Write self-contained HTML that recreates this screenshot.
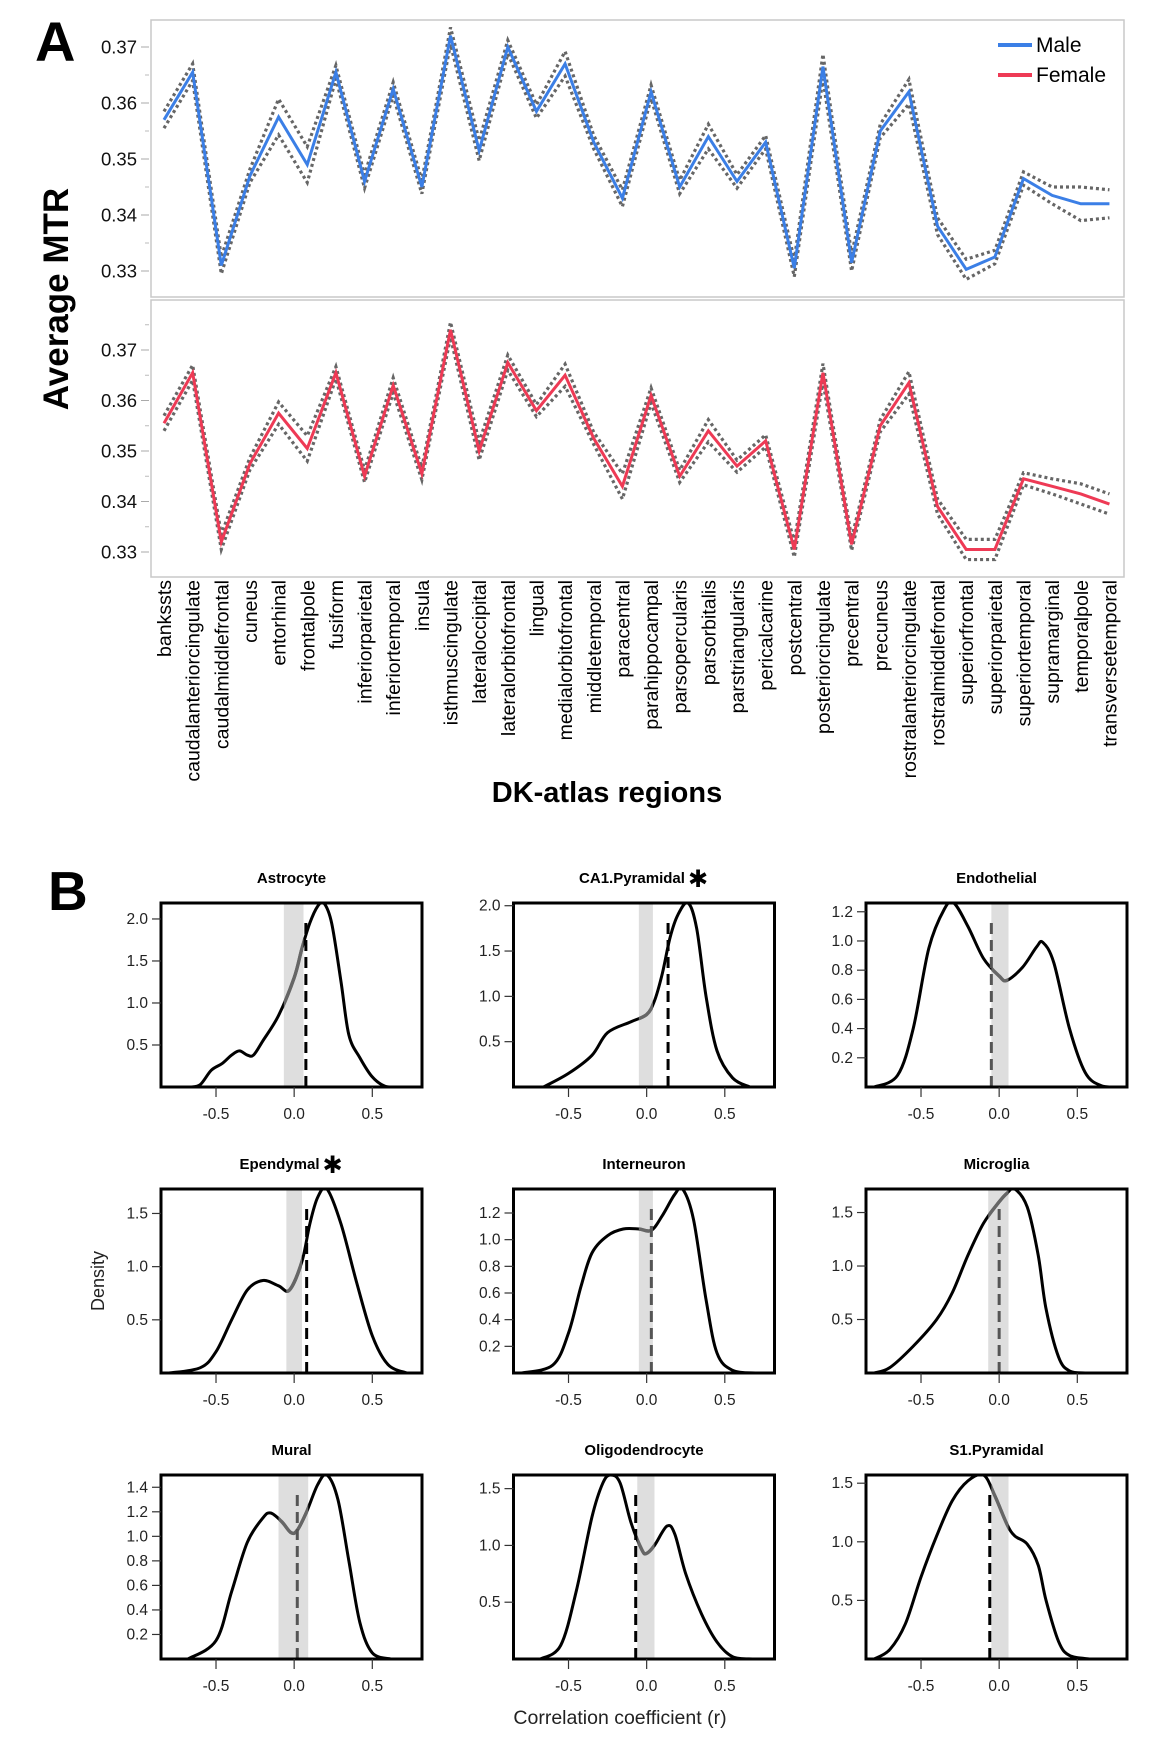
<!DOCTYPE html>
<html><head><meta charset="utf-8">
<style>
html,body{margin:0;padding:0;background:#fff;}
svg{display:block;font-family:"Liberation Sans",Arial,sans-serif;}
</style></head>
<body>
<svg id="fig" width="1162" height="1752" viewBox="0 0 1162 1752" xmlns="http://www.w3.org/2000/svg">
<text x="35" y="61" font-size="56" font-weight="bold">A</text>
<text x="48" y="910" font-size="55" font-weight="bold">B</text>
<g id="pa"></g>
<g id="pb"></g>
</svg>
<script>
// ---------- Panel A data ----------
const regions = ["bankssts","caudalanteriorcingulate","caudalmiddlefrontal","cuneus","entorhinal","frontalpole","fusiform","inferiorparietal","inferiortemporal","insula","isthmuscingulate","lateraloccipital","lateralorbitofrontal","lingual","medialorbitofrontal","middletemporal","paracentral","parahippocampal","parsopercularis","parsorbitalis","parstriangularis","pericalcarine","postcentral","posteriorcingulate","precentral","precuneus","rostralanteriorcingulate","rostralmiddlefrontal","superiorfrontal","superiorparietal","superiortemporal","supramarginal","temporalpole","transversetemporal"];
const maleMTR = [0.357,0.3655,0.331,0.347,0.3575,0.349,0.3655,0.346,0.3625,0.345,0.372,0.3515,0.370,0.3585,0.367,0.353,0.343,0.362,0.345,0.354,0.346,0.353,0.3305,0.3665,0.3315,0.355,0.362,0.338,0.3303,0.3325,0.3465,0.3435,0.342,0.342];
const maleErr = [0.0015,0.0015,0.0015,0.0012,0.0032,0.0032,0.0012,0.0012,0.0012,0.0012,0.0015,0.0018,0.0012,0.0012,0.0022,0.0012,0.0015,0.0012,0.0012,0.0022,0.0012,0.0012,0.0015,0.0022,0.0015,0.0012,0.0022,0.0015,0.0018,0.0012,0.0012,0.0015,0.003,0.0025];
const femaleMTR = [0.3555,0.3655,0.332,0.3475,0.3575,0.3505,0.3655,0.345,0.363,0.3455,0.374,0.350,0.3675,0.358,0.365,0.3525,0.343,0.361,0.345,0.354,0.347,0.352,0.3305,0.3655,0.3315,0.355,0.3635,0.339,0.3305,0.3305,0.3445,0.343,0.3415,0.3395];
const femaleErr = [0.0015,0.0015,0.0015,0.0012,0.0022,0.0025,0.0012,0.0012,0.0015,0.0012,0.0015,0.0018,0.0015,0.0012,0.0022,0.0012,0.0025,0.0015,0.0012,0.0022,0.0012,0.0012,0.0015,0.0018,0.0012,0.0012,0.0022,0.0015,0.002,0.002,0.0012,0.0015,0.002,0.002];
const mtrTicks = [0.33,0.34,0.35,0.36,0.37];
const mtrTickLabels = ["0.33","0.34","0.35","0.36","0.37"];

// ---------- Panel B data ----------
const cellTypes = ["Astrocyte","CA1.Pyramidal","Endothelial","Ependymal","Interneuron","Microglia","Mural","Oligodendrocyte","S1.Pyramidal"];
const significant = [false,true,false,true,false,false,false,false,false];
const xTicksB = [-0.5,0,0.5];
const xTickLabelsB = ["-0.5","0.0","0.5"];
const densX = [
 [-0.66,-0.6,-0.53,-0.46,-0.4,-0.35,-0.3,-0.26,-0.2,-0.1,0,0.05,0.1,0.15,0.19,0.24,0.3,0.35,0.42,0.5,0.58,0.66],
 [-0.66,-0.5,-0.35,-0.25,-0.1,0,0.05,0.1,0.15,0.2,0.265,0.32,0.38,0.45,0.55,0.66],
 [-0.8,-0.65,-0.55,-0.45,-0.35,-0.29,-0.2,-0.1,0,0.05,0.15,0.24,0.28,0.35,0.45,0.55,0.65,0.75],
 [-0.8,-0.6,-0.5,-0.4,-0.3,-0.2,-0.1,-0.03,0.05,0.1,0.15,0.21,0.3,0.4,0.5,0.6,0.72],
 [-0.8,-0.6,-0.5,-0.42,-0.35,-0.25,-0.15,-0.05,0.03,0.1,0.18,0.23,0.3,0.38,0.45,0.55,0.7],
 [-0.8,-0.7,-0.55,-0.4,-0.3,-0.2,-0.1,0,0.05,0.1,0.18,0.25,0.3,0.38,0.45,0.55],
 [-0.68,-0.5,-0.4,-0.3,-0.2,-0.15,-0.08,-0.02,0.02,0.08,0.15,0.21,0.28,0.35,0.42,0.5,0.62],
 [-0.68,-0.55,-0.45,-0.35,-0.28,-0.23,-0.17,-0.1,-0.03,0.0,0.05,0.13,0.18,0.25,0.35,0.45,0.55,0.68],
 [-0.8,-0.7,-0.6,-0.5,-0.4,-0.3,-0.2,-0.1,-0.03,0.05,0.1,0.18,0.25,0.3,0.38,0.45,0.58]
];
const densY = [
 [0,0.03,0.2,0.28,0.38,0.43,0.38,0.38,0.55,0.85,1.3,1.65,1.95,2.15,2.19,1.95,1.25,0.62,0.35,0.12,0.01,0],
 [0,0.15,0.35,0.6,0.72,0.8,0.95,1.25,1.65,1.9,2.03,1.75,1.0,0.4,0.1,0],
 [0,0.08,0.4,0.95,1.22,1.26,1.1,0.88,0.76,0.73,0.82,0.96,0.99,0.85,0.4,0.1,0.01,0],
 [0,0.05,0.2,0.5,0.78,0.87,0.82,0.78,1.05,1.4,1.65,1.73,1.4,0.85,0.35,0.08,0],
 [0,0.06,0.3,0.65,0.9,1.03,1.08,1.08,1.07,1.18,1.34,1.38,1.15,0.55,0.15,0.02,0],
 [0,0.05,0.25,0.5,0.75,1.1,1.4,1.6,1.68,1.72,1.55,1.1,0.6,0.15,0.02,0],
 [0,0.15,0.55,0.95,1.15,1.19,1.12,1.03,1.05,1.2,1.42,1.5,1.3,0.8,0.3,0.05,0],
 [0,0.12,0.6,1.25,1.55,1.62,1.55,1.2,0.96,0.93,1.0,1.17,1.1,0.75,0.4,0.15,0.02,0],
 [0,0.08,0.3,0.7,1.05,1.35,1.52,1.57,1.4,1.15,1.05,0.98,0.8,0.5,0.15,0.03,0]
];
const yMaxB = [2.19,2.03,1.26,1.73,1.38,1.72,1.5,1.62,1.57];
const yTicksB = [[0.5,1,1.5,2],[0.5,1,1.5,2],[0.2,0.4,0.6,0.8,1,1.2],[0.5,1,1.5],[0.2,0.4,0.6,0.8,1,1.2],[0.5,1,1.5],[0.2,0.4,0.6,0.8,1,1.2,1.4],[0.5,1,1.5],[0.5,1,1.5]];
const bandLo = [-0.066,-0.05,-0.05,-0.05,-0.05,-0.07,-0.1,-0.06,-0.05];
const bandHi = [0.06,0.04,0.06,0.05,0.04,0.06,0.09,0.05,0.06];
const obsR = [0.075,0.137,-0.05,0.08,0.03,0.0,0.02,-0.07,-0.06];
const obsGrey = [false,false,true,false,true,true,true,false,false];

const NS = "http://www.w3.org/2000/svg";
function mk(tag, attrs, parent, txt){
  const e = document.createElementNS(NS, tag);
  for (const k in attrs) e.setAttribute(k, attrs[k]);
  if (txt !== undefined) e.textContent = txt;
  parent.appendChild(e);
  return e;
}
function fmtTick(v){ return v.toFixed(1); }

// ---------- Panel A ----------
const pa = document.getElementById('pa');
const AX0 = 151, AX1 = 1124;
const xA = i => 164 + i * 28.65;
const plotsA = [
  {top:20, bottom:297, y037:47, ppu:5600, vals:maleMTR, err:maleErr, color:"#3b7fe6", name:"male"},
  {top:300, bottom:577, y037:350, ppu:5050, vals:femaleMTR, err:femaleErr, color:"#ee3a55", name:"female"}
];
plotsA.forEach(p => {
  const yA = v => p.y037 + (0.37 - v) * p.ppu;
  const g = mk('g', {}, pa);
  
  
  const fr = mk('rect', {x:AX0, y:p.top, width:AX1-AX0, height:p.bottom-p.top, fill:'none', stroke:'#c8c8c8', 'stroke-width':1.5}, g);
  
  
  mtrTicks.forEach((t, k) => {
    const y = yA(t);
    const tk = mk('line', {x1:141, x2:149, y1:y, y2:y, stroke:'#aaa', 'stroke-width':1}, g);
    
    
    const yh = yA(t + 0.005);
    if (yh > p.top + 2) {
      const mt = mk('line', {x1:145, x2:149, y1:yh, y2:yh, stroke:'#bbb', 'stroke-width':1}, g);
      
      
    }
    const yl = yA(t - 0.005);
    if (k === 0 && yl < p.bottom - 2) {
      const mt2 = mk('line', {x1:145, x2:149, y1:yl, y2:yl, stroke:'#bbb', 'stroke-width':1}, g);
      
      
    }
    const tl = mk('text', {x:137, y:y+6.5, 'font-size':18.5, 'text-anchor':'end', fill:'#111'}, g, mtrTickLabels[k]);
    
    
  });
  const up = p.vals.map((v,i) => xA(i)+','+yA(v + p.err[i])).join(' ');
  const lo = p.vals.map((v,i) => xA(i)+','+yA(v - p.err[i])).join(' ');
  const mid = p.vals.map((v,i) => xA(i)+','+yA(v)).join(' ');
  const u = mk('polyline', {points:up, fill:'none', stroke:'#666', 'stroke-width':3.2, 'stroke-dasharray':'3 3'}, g);
  
  
  const l = mk('polyline', {points:lo, fill:'none', stroke:'#666', 'stroke-width':3.2, 'stroke-dasharray':'3 3'}, g);
  
  
  const m = mk('polyline', {points:mid, fill:'none', stroke:p.color, 'stroke-width':3, 'stroke-linejoin':'miter'}, g);
  
  
});
regions.forEach((r, i) => {
  const t = mk('text', {transform:'translate('+(xA(i)+7)+',580) rotate(-90)', 'font-size':19.5, 'text-anchor':'end', fill:'#000'}, pa, r);
  
  
});
const yt = mk('text', {transform:'translate(68,299) rotate(-90)', 'font-size':35, 'font-weight':'bold', 'text-anchor':'middle'}, pa, 'Average MTR');


const xt = mk('text', {x:607, y:802, 'font-size':29, 'font-weight':'bold', 'text-anchor':'middle'}, pa, 'DK-atlas regions');


const leg = mk('g', {}, pa);


[["Male","#3b7fe6",45],["Female","#ee3a55",75]].forEach(e => {
  const ln = mk('line', {x1:998, x2:1032, y1:e[2], y2:e[2], stroke:e[1], 'stroke-width':4}, leg);
  
  
  const tx = mk('text', {x:1036, y:e[2]+7, 'font-size':21}, leg, e[0]);
  
  
});

// ---------- Panel B ----------
const pb = document.getElementById('pb');
const colL = [161,513.5,866], rowT = [903,1189,1475], W = 261, H = 184;
const XMIN = -0.852, XMAX = 0.818;
function smoothPath(pts){
  let d = 'M' + pts[0][0] + ',' + pts[0][1];
  for (let i = 0; i < pts.length - 1; i++){
    const p0 = pts[Math.max(0,i-1)], p1 = pts[i], p2 = pts[i+1], p3 = pts[Math.min(pts.length-1,i+2)];
    const c1x = p1[0] + (p2[0]-p0[0])/6, c1y = p1[1] + (p2[1]-p0[1])/6;
    const c2x = p2[0] - (p3[0]-p1[0])/6, c2y = p2[1] - (p3[1]-p1[1])/6;
    d += ' C' + c1x + ',' + c1y + ' ' + c2x + ',' + c2y + ' ' + p2[0] + ',' + p2[1];
  }
  return d;
}
cellTypes.forEach((name, k) => {
  const L = colL[k % 3], T = rowT[Math.floor(k / 3)], B = T + H;
  const sx = v => L + (v - XMIN) / (XMAX - XMIN) * W;
  const sy = v => B - v / yMaxB[k] * H;
  const g = mk('g', {}, pb);
  
  
  const title = mk('text', {x:L + W/2, y:T - 20, 'font-size':15, 'font-weight':'bold', 'text-anchor':'middle'}, g, name);
  
  
  if (significant[k]) {
    const tw = title.getComputedTextLength ? title.getComputedTextLength() : name.length * 8.5;
    const cx = L + W/2 - 12;
    title.setAttribute('x', cx);
    const st = mk('text', {x:cx + tw/2 + 3, y:T - 16, 'font-size':24, 'font-weight':'bold', 'font-family':'"DejaVu Sans",sans-serif'}, g, '\u2731');
    
    
  }
  const band = mk('rect', {x:sx(bandLo[k]), y:T, width:sx(bandHi[k]) - sx(bandLo[k]), height:H, fill:'#dedede'}, g);
  
  
  const pts = densX[k].map((x, i) => [sx(x), sy(densY[k][i])]);
  const d = smoothPath(pts);
  const cid = 'clip' + k;
  const cp = mk('clipPath', {id:cid}, g);
  mk('rect', {x:L, y:T, width:W, height:H}, cp);
  const cid2 = 'band' + k;
  const cp2 = mk('clipPath', {id:cid2}, g);
  mk('rect', {x:sx(bandLo[k]), y:T, width:sx(bandHi[k]) - sx(bandLo[k]), height:H}, cp2);
  const base1 = mk('line', {x1:L, x2:pts[0][0], y1:B, y2:B, stroke:'#000', 'stroke-width':3}, g);
  
  
  const base2 = mk('line', {x1:pts[pts.length-1][0], x2:L+W, y1:B, y2:B, stroke:'#000', 'stroke-width':3}, g);
  
  
  const curve = mk('path', {d:d, fill:'none', stroke:'#000', 'stroke-width':3, 'clip-path':'url(#'+cid+')'}, g);
  
  
  const gc = mk('path', {d:d, fill:'none', stroke:'#666', 'stroke-width':3.4, 'clip-path':'url(#'+cid2+')'}, g);
  
  
  const dl = mk('line', {x1:sx(obsR[k]), x2:sx(obsR[k]), y1:B, y2:T + 14, stroke:obsGrey[k] ? '#555' : '#000', 'stroke-width':3, 'stroke-dasharray':'11 6'}, g);
  
  
  const box = mk('rect', {x:L, y:T, width:W, height:H, fill:'none', stroke:'#000', 'stroke-width':3}, g);
  
  
  xTicksB.forEach((t, i) => {
    const x = sx(t);
    const tk = mk('line', {x1:x, x2:x, y1:B, y2:B + 10, stroke:'#333', 'stroke-width':1.2}, g);
    
    
    const tl = mk('text', {x:x, y:B + 32, 'font-size':15.5, 'text-anchor':'middle', fill:'#222'}, g, xTickLabelsB[i]);
    
    
  });
  yTicksB[k].forEach(t => {
    const y = sy(t);
    const tk = mk('line', {x1:L - 9, x2:L, y1:y, y2:y, stroke:'#333', 'stroke-width':1.2}, g);
    
    
    const tl = mk('text', {x:L - 13, y:y + 5, 'font-size':15.5, 'text-anchor':'end', fill:'#222'}, g, fmtTick(t));
    
    
  });
});
const dens = mk('text', {transform:'translate(104,1281) rotate(-90)', 'font-size':18, 'text-anchor':'middle', fill:'#222'}, pb, 'Density');


const cc = mk('text', {x:620, y:1724, 'font-size':19.5, 'text-anchor':'middle', fill:'#222'}, pb, 'Correlation coefficient (r)');


</script>
</body></html>
